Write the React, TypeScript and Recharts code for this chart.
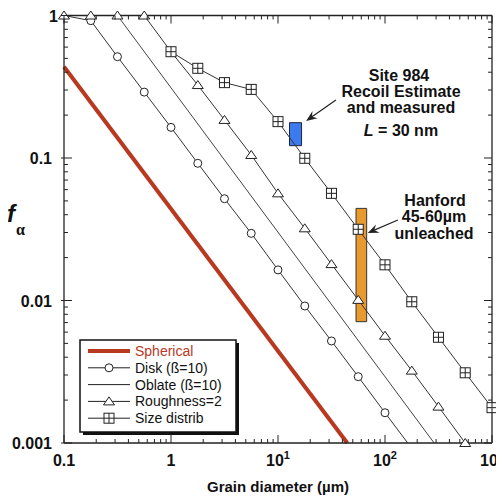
import React from 'react';
import { LineChart, Line, XAxis, YAxis, ReferenceArea, ReferenceLine } from 'recharts';

const FONT = '"Liberation Sans", Arial, Helvetica, sans-serif';
const SERIF = '"Liberation Serif", "DejaVu Serif", serif';
const RED = '#B8391F';
const INK = '#222';

// ---- axis ticks ----
const xMajorTicks = [0.1, 1, 10, 100, 1000];
const xTickLabels = ['0.1', '1', '10', '10', '10'];
const xTickSups = ['', '', '1', '2', '3'];
const yMajorTicks = [0.001, 0.01, 0.1, 1];
const yTickLabels = ['0.001', '0.01', '0.1', '1'];
const minorMultipliers = [2, 3, 4, 5, 6, 7, 8, 9];

// ---- series ----
const sphericalX = [0.1, 44.4];
const sphericalY = [0.437, 0.001];

const diskX = [0.1, 0.178, 0.316, 0.562, 1, 1.78, 3.16, 5.62, 10, 17.8, 31.6, 56.2, 100, 163];
const diskY = [1, 0.92, 0.514, 0.29, 0.164, 0.0918, 0.0518, 0.0296, 0.0164, 0.00915, 0.0052, 0.00292, 0.00163, 0.001];
const diskMarked = [false, true, true, true, true, true, true, true, true, true, true, true, true, false];

const oblateX = [0.1, 0.316, 288];
const oblateY = [1, 1, 0.001];

const roughX = [0.1, 0.178, 0.316, 0.562, 1, 1.78, 3.16, 5.62, 10, 17.8, 31.6, 56.2, 100, 178, 316, 562];
const roughY = [1, 1, 1, 1, 0.557, 0.325, 0.185, 0.105, 0.0565, 0.0321, 0.018, 0.0101, 0.00566, 0.00322, 0.0018, 0.001];
const roughMarked = [true, true, true, true, false, true, true, true, true, true, true, true, true, true, true, true];

const sizeX = [1, 1.78, 3.16, 5.62, 10, 17.8, 31.6, 56.2, 100, 178, 316, 562, 1000];
const sizeY = [0.557, 0.426, 0.338, 0.303, 0.18, 0.0995, 0.0565, 0.0316, 0.0178, 0.0098, 0.00552, 0.00311, 0.00177];

// ---- measured boxes ----
const site984Box = { x1: 12.8, x2: 16.6, y1: 0.122, y2: 0.177 };
const hanfordBox = { x1: 53.6, x2: 67.4, y1: 0.0071, y2: 0.0443 };
const site984Arrow = [{ x: 34.8, y: 0.255 }, { x: 18.3, y: 0.182 }];
const hanfordArrow = [{ x: 132, y: 0.0367 }, { x: 68.9, y: 0.0298 }];

const build = (xs: number[], ys: number[], marks?: boolean[]) =>
  xs.map((x, i) => ({ x, y: ys[i], m: marks ? marks[i] : true }));

const sphericalData = build(sphericalX, sphericalY);
const diskData = build(diskX, diskY, diskMarked);
const oblateData = build(oblateX, oblateY);
const roughData = build(roughX, roughY, roughMarked);
const sizeData = build(sizeX, sizeY);

const withMinors = (majors: number[]) => {
  const out: number[] = [...majors];
  majors.slice(0, -1).forEach((d) => minorMultipliers.forEach((m) => out.push(d * m)));
  return out;
};
const xTicks = withMinors(xMajorTicks);
const yTicks = withMinors(yMajorTicks);

const MAJ = 8;
const MIN = 4;

const XBottomTick = (p: any) => {
  const v = p.payload.value;
  const idx = xMajorTicks.indexOf(v);
  const major = idx >= 0;
  return (
    <g>
      <line x1={p.x} x2={p.x} y1={p.y} y2={p.y - (major ? MAJ : MIN)} stroke={INK} strokeWidth={1} />
      {major && (
        <text x={p.x} y={p.y + 23} textAnchor="middle" fontFamily={FONT} fontWeight="bold" fontSize={16} fill="#111">
          {xTickLabels[idx]}
          {xTickSups[idx] && (
            <tspan fontSize={11} dy={-7}>{xTickSups[idx]}</tspan>
          )}
        </text>
      )}
    </g>
  );
};

const XTopTick = (p: any) => {
  const major = xMajorTicks.indexOf(p.payload.value) >= 0;
  return <line x1={p.x} x2={p.x} y1={p.y} y2={p.y + (major ? MAJ : MIN)} stroke={INK} strokeWidth={1} />;
};

const YLeftTick = (p: any) => {
  const v = p.payload.value;
  const idx = yMajorTicks.indexOf(v);
  const major = idx >= 0;
  return (
    <g>
      <line x1={p.x - (major ? 3 : 0)} x2={p.x + (major ? MAJ : MIN)} y1={p.y} y2={p.y} stroke={INK} strokeWidth={1} />
      {major && (
        <text x={v === 1 ? p.x - 6 : p.x - 12} y={p.y + 6} textAnchor="end" fontFamily={FONT} fontWeight="bold" fontSize={16} fill="#111">
          {yTickLabels[idx]}
        </text>
      )}
    </g>
  );
};

const YRightTick = (p: any) => {
  const major = yMajorTicks.indexOf(p.payload.value) >= 0;
  return <line x1={p.x} x2={p.x - (major ? MAJ : MIN)} y1={p.y} y2={p.y} stroke={INK} strokeWidth={1} />;
};

const circleMark = (cx: number, cy: number, key?: string) => (
  <circle key={key} cx={cx} cy={cy} r={4} fill="#fff" stroke={INK} strokeWidth={1} />
);
const triMark = (cx: number, cy: number, key?: string) => (
  <polygon key={key} points={`${cx},${cy - 4.5} ${cx - 5.5},${cy + 3.5} ${cx + 5.5},${cy + 3.5}`} fill="#fff" stroke={INK} strokeWidth={1} />
);
const sqMark = (cx: number, cy: number, key?: string) => (
  <g key={key}>
    <rect x={cx - 5} y={cy - 5} width={10} height={10} fill="#fff" stroke={INK} strokeWidth={1} />
    <line x1={cx} x2={cx} y1={cy - 5} y2={cy + 5} stroke={INK} strokeWidth={1} />
    <line x1={cx - 5} x2={cx + 5} y1={cy} y2={cy} stroke={INK} strokeWidth={1} />
  </g>
);

const makeDot = (fn: (cx: number, cy: number, key?: string) => any) => (p: any) => {
  const key = `dot-${p.index}`;
  if (!p.payload || !p.payload.m || p.cx == null || p.cy == null) return <g key={key} />;
  return fn(p.cx, p.cy, key);
};

const arrowShape = (p: any) => {
  const { x1, y1, x2, y2 } = p;
  const ang = Math.atan2(y2 - y1, x2 - x1);
  const L = 11;
  const W = 4.5;
  const bx = x2 - L * Math.cos(ang);
  const by = y2 - L * Math.sin(ang);
  const nx = -Math.sin(ang);
  const ny = Math.cos(ang);
  const ix = x2 - L * 0.65 * Math.cos(ang);
  const iy = y2 - L * 0.65 * Math.sin(ang);
  return (
    <g>
      <line x1={x1} y1={y1} x2={ix} y2={iy} stroke={INK} strokeWidth={1.2} />
      <polygon
        points={`${x2},${y2} ${bx + nx * W},${by + ny * W} ${ix},${iy} ${bx - nx * W},${by - ny * W}`}
        fill={INK}
      />
    </g>
  );
};

const legendRows = [
  { label: 'Spherical', kind: 'spherical' },
  { label: 'Disk (ß=10)', kind: 'disk' },
  { label: 'Oblate (ß=10)', kind: 'oblate' },
  { label: 'Roughness=2', kind: 'rough' },
  { label: 'Size distrib', kind: 'size' },
];

const Overlay = () => (
  <svg width={496} height={488} style={{ position: 'absolute', left: 0, top: 0, pointerEvents: 'none' }}>
    <g transform="translate(-8,-8)">
      {/* Y label */}
      <text x={7} y={222} fontFamily={FONT} fontWeight="bold" fontStyle="italic" fontSize={24} fill="#111">f</text>
      <text x={16} y={235} fontFamily={SERIF} fontWeight="bold" fontSize={16} fill="#111">α</text>
      {/* X label */}
      <text x={278} y={492} textAnchor="middle" fontFamily={FONT} fontWeight="bold" fontSize={15} fill="#111">
        Grain diameter (µm)
      </text>
      {/* Site 984 annotation */}
      <g fontFamily={FONT} fontWeight="bold" fontSize={16} fill="#111" textAnchor="middle">
        <text x={399} y={81}>Site 984</text>
        <text x={401} y={97}>Recoil Estimate</text>
        <text x={401} y={113}>and measured</text>
        <text x={401} y={136}>
          <tspan fontStyle="italic">L</tspan> = 30 nm
        </text>
      </g>
      {/* Hanford annotation */}
      <g fontFamily={FONT} fontWeight="bold" fontSize={16} fill="#111" textAnchor="middle">
        <text x={435} y={206}>Hanford</text>
        <text x={434} y={222}>45-60µm</text>
        <text x={434} y={239}>unleached</text>
      </g>
      {/* Legend */}
      <rect x={83} y={343} width={156} height={92} fill="#111" />
      <rect x={80} y={340} width={156} height={92} fill="#fff" stroke="#111" strokeWidth={1.5} />
      {legendRows.map((r, i) => {
        const y = 351 + i * 16.8;
        const lx1 = 88;
        const lx2 = 130;
        const mx = 109;
        return (
          <g key={r.kind}>
            {r.kind === 'spherical' ? (
              <line x1={lx1} x2={lx2} y1={y} y2={y} stroke={RED} strokeWidth={4} />
            ) : (
              <line x1={lx1} x2={lx2} y1={y} y2={y} stroke={INK} strokeWidth={1} />
            )}
            {r.kind === 'disk' && circleMark(mx, y)}
            {r.kind === 'rough' && triMark(mx, y)}
            {r.kind === 'size' && sqMark(mx, y)}
            <text x={135} y={y + 5} fontFamily={FONT} fontSize={14} fill={r.kind === 'spherical' ? RED : '#111'}>
              {r.label}
            </text>
          </g>
        );
      })}
    </g>
  </svg>
);

export default function App() {
  return (
    <div style={{ position: 'relative', width: 496, height: 488 }}>
      <LineChart width={496} height={488} margin={{ top: 0, right: 0, bottom: 0, left: 0 }}>
        <XAxis
          xAxisId={0}
          dataKey="x"
          type="number"
          scale="log"
          domain={[0.1, 1000]}
          ticks={xTicks}
          interval={0}
          height={53}
          tickSize={0}
          tickMargin={0}
          tickLine={false}
          tick={XBottomTick}
          axisLine={{ stroke: INK, strokeWidth: 1.3 }}
        />
        <XAxis
          xAxisId="top"
          orientation="top"
          dataKey="x"
          type="number"
          scale="log"
          domain={[0.1, 1000]}
          allowDataOverflow
          ticks={xTicks}
          interval={0}
          height={7.5}
          tickSize={0}
          tickMargin={0}
          tickLine={false}
          tick={XTopTick}
          axisLine={{ stroke: INK, strokeWidth: 1.3 }}
        />
        <YAxis
          yAxisId={0}
          dataKey="y"
          type="number"
          scale="log"
          domain={[0.001, 1]}
          ticks={yTicks}
          interval={0}
          width={56}
          tickSize={0}
          tickMargin={0}
          tickLine={false}
          tick={YLeftTick}
          axisLine={{ stroke: INK, strokeWidth: 1.3 }}
        />
        <YAxis
          yAxisId="right"
          orientation="right"
          type="number"
          scale="log"
          domain={[0.001, 1]}
          allowDataOverflow
          ticks={yTicks}
          interval={0}
          width={12}
          tickSize={0}
          tickMargin={0}
          tickLine={false}
          tick={YRightTick}
          axisLine={{ stroke: INK, strokeWidth: 1.3 }}
        />
        <ReferenceArea
          xAxisId={0}
          yAxisId={0}
          x1={hanfordBox.x1}
          x2={hanfordBox.x2}
          y1={hanfordBox.y1}
          y2={hanfordBox.y2}
          fill="#E99A2F"
          fillOpacity={1}
          stroke="#333"
          strokeWidth={1}
        />
        <Line data={sphericalData} dataKey="y" xAxisId={0} yAxisId={0} stroke={RED} strokeWidth={4} dot={false} isAnimationActive={false} />
        <Line data={oblateData} dataKey="y" xAxisId={0} yAxisId={0} stroke="#444" strokeWidth={1} dot={false} isAnimationActive={false} />
        <Line data={diskData} dataKey="y" xAxisId={0} yAxisId={0} stroke="#333" strokeWidth={1} dot={makeDot(circleMark)} isAnimationActive={false} />
        <Line data={roughData} dataKey="y" xAxisId={0} yAxisId={0} stroke="#333" strokeWidth={1} dot={makeDot(triMark)} isAnimationActive={false} />
        <Line data={sizeData} dataKey="y" xAxisId={0} yAxisId={0} stroke="#333" strokeWidth={1} dot={makeDot(sqMark)} isAnimationActive={false} />
        <ReferenceArea
          xAxisId={0}
          yAxisId={0}
          x1={site984Box.x1}
          x2={site984Box.x2}
          y1={site984Box.y1}
          y2={site984Box.y2}
          fill="#3C7BEF"
          fillOpacity={1}
          stroke="#223"
          strokeWidth={1}
        />
        <ReferenceLine xAxisId={0} yAxisId={0} segment={site984Arrow} shape={arrowShape} />
        <ReferenceLine xAxisId={0} yAxisId={0} segment={hanfordArrow} shape={arrowShape} />
      </LineChart>
      <Overlay />
    </div>
  );
}
